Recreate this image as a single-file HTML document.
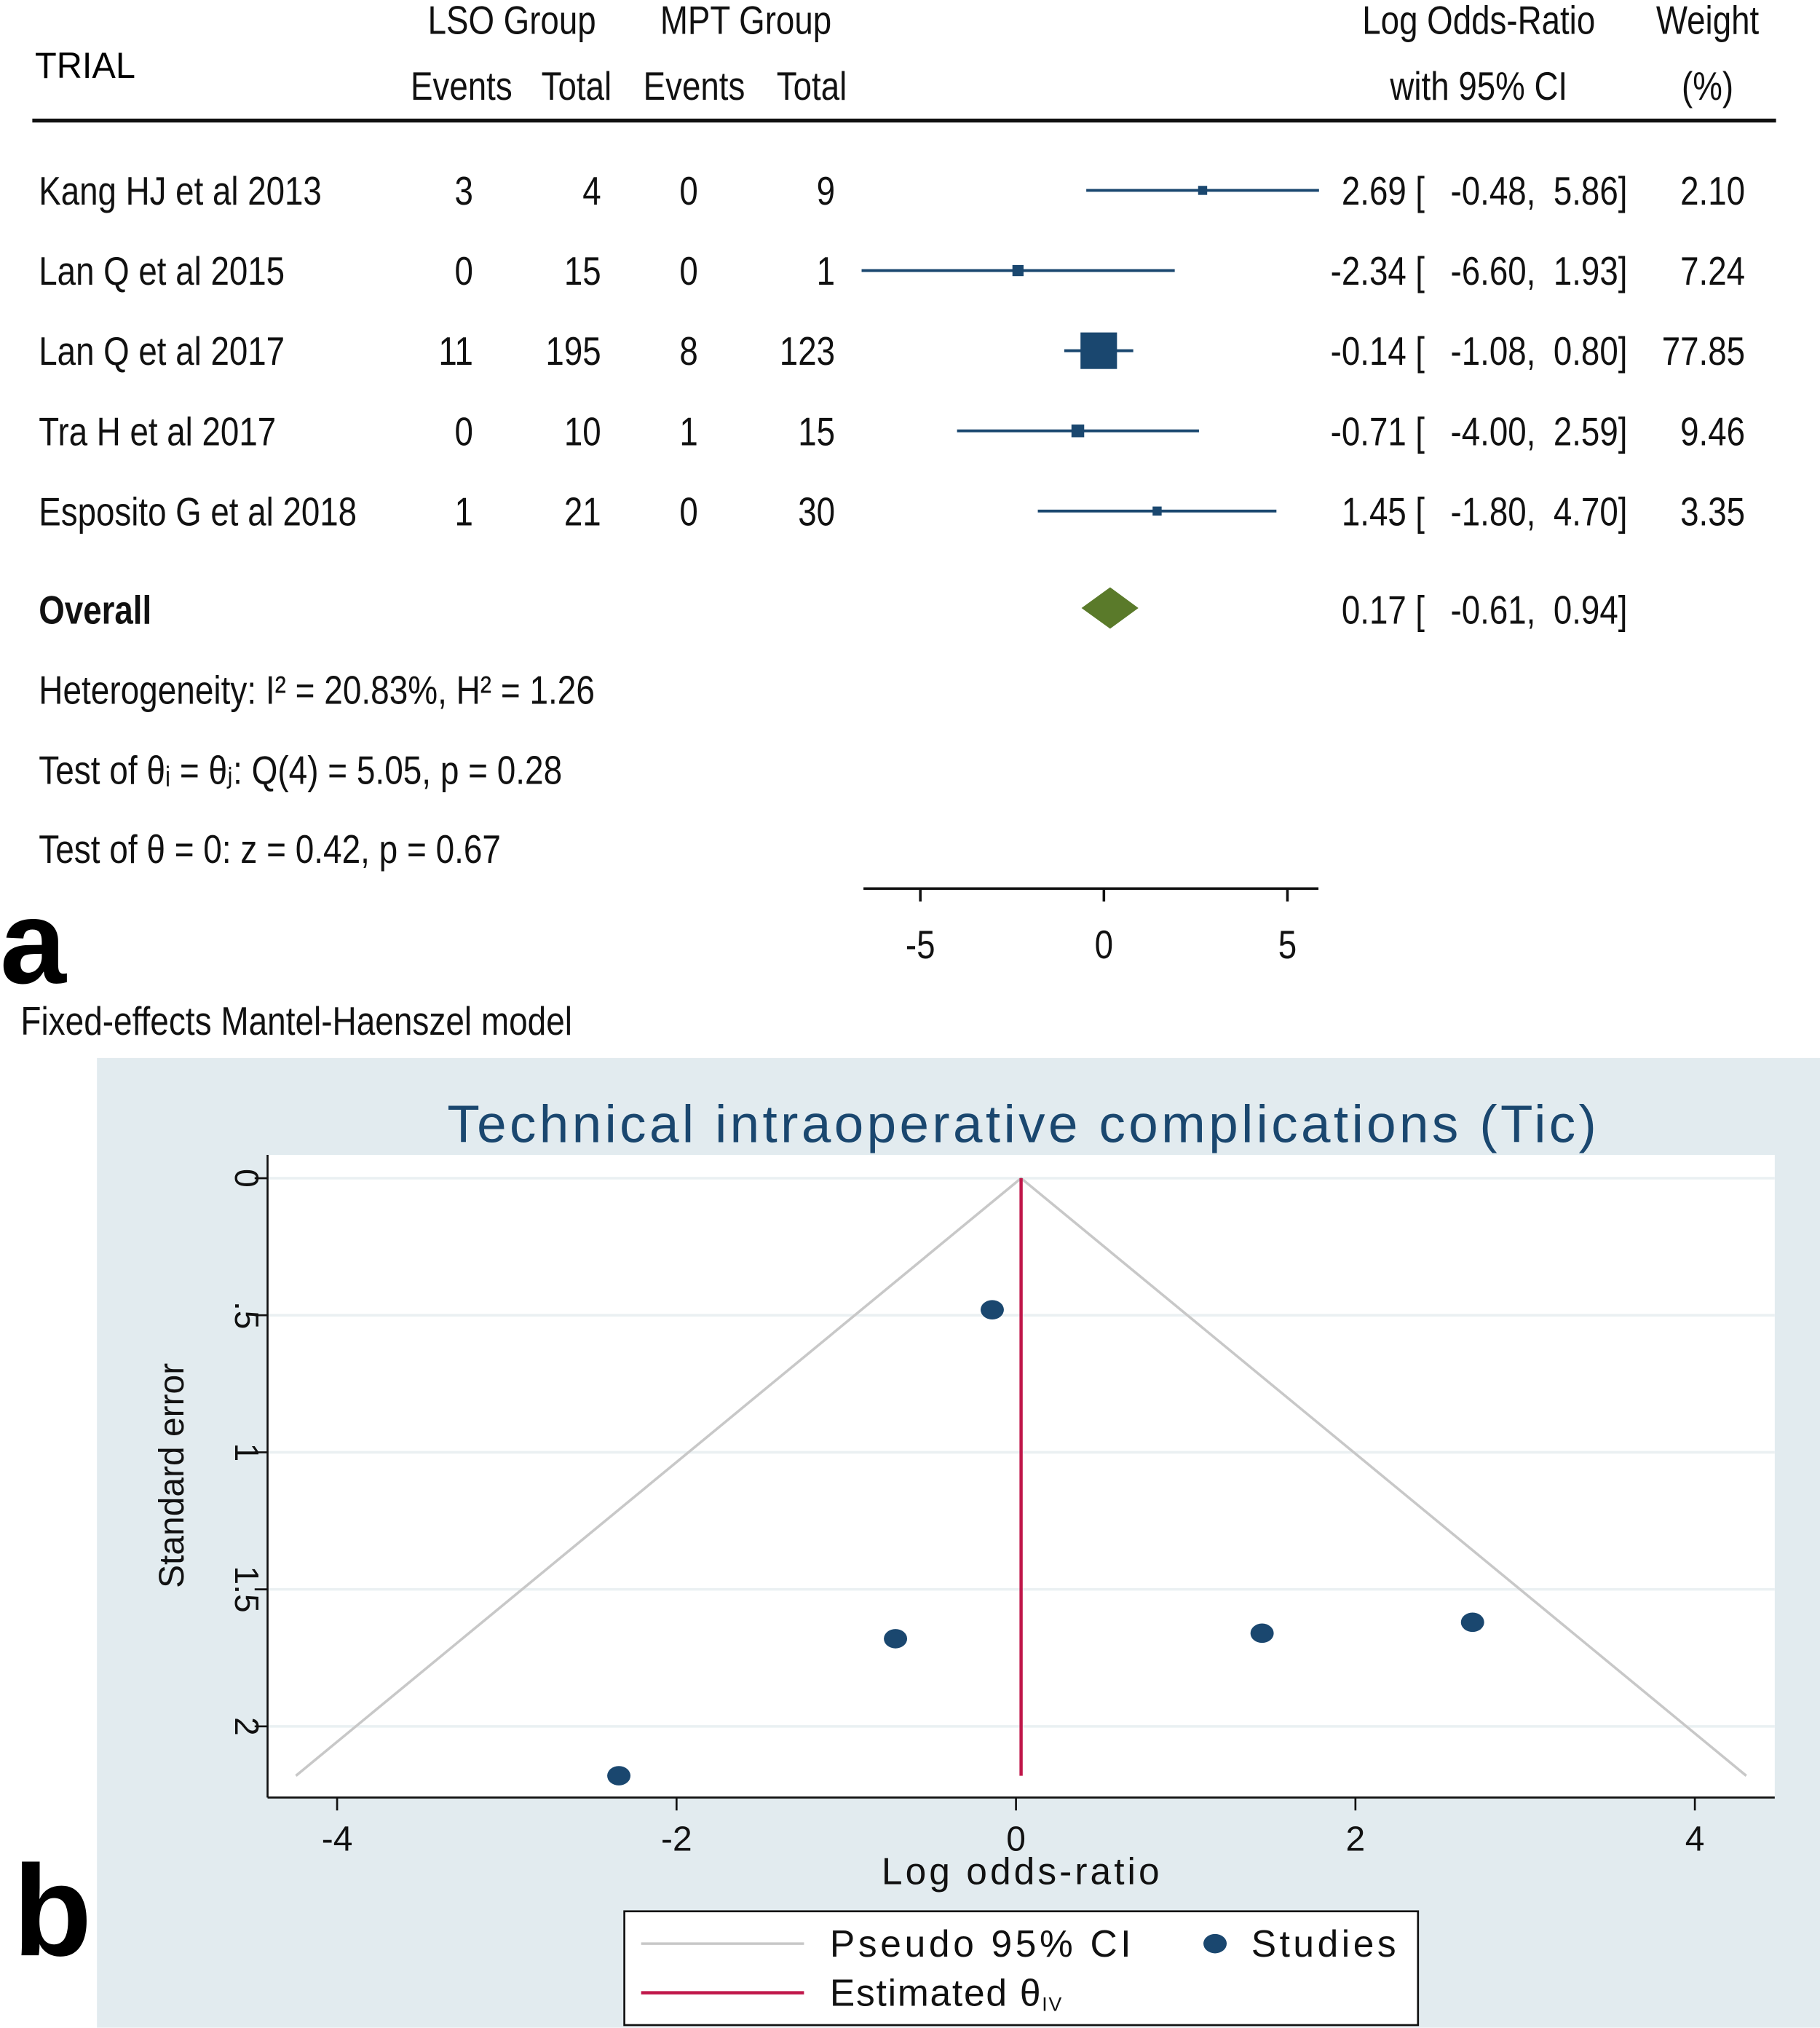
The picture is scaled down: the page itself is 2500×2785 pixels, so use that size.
<!DOCTYPE html>
<html><head><meta charset="utf-8"><style>
html,body{margin:0;padding:0;background:#fff;}
svg{display:block;}
text{font-family:"Liberation Sans",sans-serif;}
</style></head>
<body>
<svg id="fig" width="2500" height="2785" viewBox="0 0 1408 1568" xmlns="http://www.w3.org/2000/svg">
<g id="forest"></g>
<g id="funnel"></g>
</svg>
<script>
// ---------- Forest plot data ----------
const studies = ["Kang HJ et al 2013","Lan Q et al 2015","Lan Q et al 2017","Tra H et al 2017","Esposito G et al 2018"];
const lsoEvents = [3,0,11,0,1];
const lsoTotal = [4,15,195,10,21];
const mptEvents = [0,0,8,1,0];
const mptTotal = [9,1,123,15,30];
const logOR = [2.69,-2.34,-0.14,-0.71,1.45];
const ciLow = [-0.48,-6.60,-1.08,-4.00,-1.80];
const ciHigh = [5.86,1.93,0.80,2.59,4.70];
const weights = [2.10,7.24,77.85,9.46,3.35];
const overall = [0.17,-0.61,0.94];
const forestTicks = [-5,0,5];
// ---------- Funnel plot data ----------
const funnelEst = [-0.14,-2.34,-0.71,1.45,2.69];
const funnelSE = [0.48,2.18,1.68,1.66,1.62];
const thetaIV = 0.03;
const maxSE = 2.18;
const funnelXTicks = [-4,-2,0,2,4];
const funnelYTicks = [0,0.5,1,1.5,2];
const funnelYLabels = ["0",".5","1","1.5","2"];

const NS="http://www.w3.org/2000/svg";
function el(parent,tag,attrs){const e=document.createElementNS(NS,tag);for(const k in attrs)e.setAttribute(k,attrs[k]);parent.appendChild(e);return e;}
function txt(parent,x,y,s,o){o=o||{};
  const e=el(parent,'text',{transform:`translate(${x},${y}) scale(${o.sx||0.83},1)`,'font-size':o.size||31,'text-anchor':o.anchor||'start',fill:o.fill||'#111','font-weight':o.bold?'bold':'normal'});
  e.textContent=s;return e;}

// ---------- Forest ----------
const F=document.getElementById('forest');
const fx=v=>854+v*28.4;
const rowY=[147,209,271,333,395];
let t;
t=txt(F,27,60,"TRIAL",{size:28,sx:0.98,fill:'#000'});


t=txt(F,396,26,"LSO Group",{anchor:'middle'});
t=txt(F,577,26,"MPT Group",{anchor:'middle'});
[["Events",357],["Total",446],["Events",537],["Total",628]].forEach(a=>{const q=txt(F,a[1],77,a[0],{anchor:'middle'});});
t=txt(F,1144,26,"Log Odds-Ratio",{anchor:'middle'});
t=txt(F,1144,77,"with 95% CI",{anchor:'middle'});
t=txt(F,1321,26,"Weight",{anchor:'middle'});
t=txt(F,1321,77,"(%)",{anchor:'middle'});
let hl=el(F,'line',{x1:25,x2:1374,y1:93,y2:93,stroke:'#111','stroke-width':3});


const f2=v=>v.toFixed(2);
function ciText(g,ty,a,b,c){
  txt(g,1088,ty,f2(a),{anchor:'end'});
  txt(g,1095,ty,"[");
  txt(g,1188,ty,f2(b)+",",{anchor:'end'});
  txt(g,1259,ty,f2(c)+"]",{anchor:'end'});
}
studies.forEach((s,i)=>{
  const y=rowY[i], ty=y+11;
  const g=el(F,'g',{});
  
  
  txt(g,30,ty,s);
  txt(g,366,ty,String(lsoEvents[i]),{anchor:'end'});
  txt(g,465,ty,String(lsoTotal[i]),{anchor:'end'});
  txt(g,540,ty,String(mptEvents[i]),{anchor:'end'});
  txt(g,646,ty,String(mptTotal[i]),{anchor:'end'});
  const ci=el(g,'line',{x1:fx(ciLow[i]),x2:fx(ciHigh[i]),y1:y,y2:y,stroke:'#1a476f','stroke-width':2.2});
  
  
  const sz=Math.max(7,Math.sqrt(weights[i])*3.2);
  const sq=el(g,'rect',{x:fx(logOR[i])-sz/2,y:y-sz/2,width:sz,height:sz,fill:'#1a476f'});
  
  
  ciText(g,ty,logOR[i],ciLow[i],ciHigh[i]);
  txt(g,1350,ty,f2(weights[i]),{anchor:'end'});
});
t=txt(F,30,482,"Overall",{bold:true});
const dia=el(F,'polygon',{points:`${fx(overall[1])},470 ${fx(overall[0])},454 ${fx(overall[2])},470 ${fx(overall[0])},486`,fill:'#5a7a2a'});


ciText(F,482,overall[0],overall[1],overall[2]);
t=txt(F,30,544,"Heterogeneity: I\u00B2 = 20.83%, H\u00B2 = 1.26",{sx:0.835});
t=txt(F,30,606,"Test of \u03B8\u1D62 = \u03B8\u2C7C: Q(4) = 5.05, p = 0.28",{sx:0.835});
t=txt(F,30,667,"Test of \u03B8 = 0: z = 0.42, p = 0.67",{sx:0.835});
const ax=el(F,'line',{x1:668,x2:1020,y1:687,y2:687,stroke:'#111','stroke-width':2});


forestTicks.forEach(v=>{
  const tk=el(F,'line',{x1:fx(v),x2:fx(v),y1:687,y2:697,stroke:'#111','stroke-width':2});
  
  
  txt(F,fx(v),741,String(v),{anchor:'middle'});
});
t=txt(F,0,760,"a",{size:92,bold:true,sx:1,fill:'#000'});
t=txt(F,16,800,"Fixed-effects Mantel-Haenszel model",{sx:0.835});

// ---------- Funnel ----------
const P=document.getElementById('funnel');
const gx=v=>786+v*131.3, gy=v=>911+v*212;
let bg=el(P,'rect',{x:75,y:818,width:1333,height:750,fill:'#e2ebef'});


let pa=el(P,'rect',{x:207,y:893,width:1166,height:497,fill:'#fff'});


const ttl=el(P,'text',{x:346,y:883,'font-size':41,fill:'#1a476f',textLength:889,lengthAdjust:'spacing'});
ttl.textContent="Technical intraoperative complications (Tic)";


funnelYTicks.forEach((v,i)=>{
  const gl=el(P,'line',{x1:207,x2:1373,y1:gy(v),y2:gy(v),stroke:'#eaf0f2','stroke-width':2});
  
  
  el(P,'line',{x1:197,x2:207,y1:gy(v),y2:gy(v),stroke:'#111','stroke-width':1.5});
  const tl=el(P,'text',{transform:`translate(182,${gy(v)}) rotate(90)`,'text-anchor':'middle','font-size':26,fill:'#111'});
  tl.textContent=funnelYLabels[i];
  
  
});
el(P,'line',{x1:207,x2:207,y1:893,y2:1390,stroke:'#111','stroke-width':1.5});
el(P,'line',{x1:207,x2:1373,y1:1390,y2:1390,stroke:'#111','stroke-width':1.5});
funnelXTicks.forEach(v=>{
  el(P,'line',{x1:gx(v),x2:gx(v),y1:1390,y2:1400,stroke:'#111','stroke-width':1.5});
  const tl=el(P,'text',{x:gx(v),y:1431,'text-anchor':'middle','font-size':27,fill:'#111'});
  tl.textContent=String(v);
  
  
});
const yt=el(P,'text',{transform:'translate(142,1141) rotate(-90)','text-anchor':'middle','font-size':27,fill:'#111'});
yt.textContent="Standard error";


const xt=el(P,'text',{x:682,y:1457,'font-size':29,fill:'#111',textLength:215,lengthAdjust:'spacing'});
xt.textContent="Log odds-ratio";


const fun=el(P,'polyline',{points:`${gx(thetaIV-1.96*maxSE)},${gy(maxSE)} ${gx(thetaIV)},${gy(0)} ${gx(thetaIV+1.96*maxSE)},${gy(maxSE)}`,fill:'none',stroke:'#c8c8c8','stroke-width':2});


const est=el(P,'line',{x1:gx(thetaIV),x2:gx(thetaIV),y1:gy(0),y2:gy(maxSE),stroke:'#c0174a','stroke-width':2.5});


funnelEst.forEach((v,i)=>{
  const c=el(P,'ellipse',{cx:gx(v),cy:gy(funnelSE[i]),rx:9,ry:7.5,fill:'#1a476f'});
  
  
});
let lg=el(P,'rect',{x:483,y:1478,width:614,height:88,fill:'#fff',stroke:'#111','stroke-width':1.5});


el(P,'line',{x1:496,x2:622,y1:1503,y2:1503,stroke:'#c8c8c8','stroke-width':2});
let l1=el(P,'text',{x:642,y:1513,'font-size':29,fill:'#111',textLength:233,lengthAdjust:'spacing'});l1.textContent="Pseudo 95% CI";

el(P,'ellipse',{cx:940,cy:1503,rx:9,ry:7.5,fill:'#1a476f'});
let l2=el(P,'text',{x:968,y:1513,'font-size':29,fill:'#111',textLength:112,lengthAdjust:'spacing'});l2.textContent="Studies";

el(P,'line',{x1:496,x2:622,y1:1541,y2:1541,stroke:'#c0174a','stroke-width':2.5});
let l3=el(P,'text',{x:642,y:1551,'font-size':29,fill:'#111','letter-spacing':'1'});l3.innerHTML='Estimated \u03B8<tspan font-size="15" dy="4">IV</tspan>';

let b=el(P,'text',{x:10,y:1512,'font-size':100,'font-weight':'bold',fill:'#000'});b.textContent="b";

</script>
</body></html>
